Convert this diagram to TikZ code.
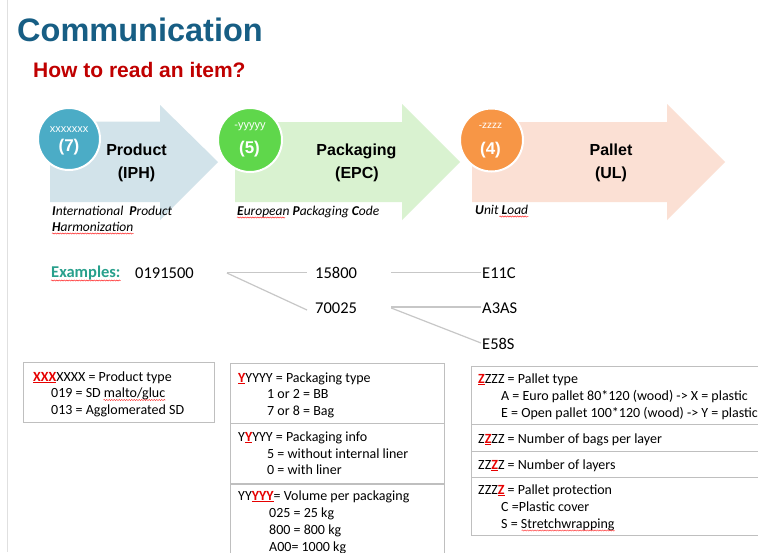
\documentclass[tikz,border=0pt]{standalone}
\usepackage{fontspec}
\setmainfont{Carlito}
\newfontfamily\arialf{Liberation Sans}
\usetikzlibrary{calc,decorations.pathmorphing}
\definecolor{titleblue}{RGB}{23,94,132}
\definecolor{titlered}{RGB}{192,0,0}
\definecolor{extea}{RGB}{40,160,140}
\definecolor{arrblue}{RGB}{210,227,234}
\definecolor{arrgreen}{RGB}{217,242,208}
\definecolor{arrpeach}{RGB}{251,224,212}
\definecolor{cblue}{RGB}{75,172,198}
\definecolor{cgreen}{RGB}{95,215,75}
\definecolor{corange}{RGB}{247,150,70}
\definecolor{hl}{RGB}{230,0,0}
\newcommand{\hlt}[1]{\textcolor{hl}{\textbf{\underline{#1}}}}
\tikzset{
  txt/.style={inner sep=0pt, anchor=base west, font=\fontsize{14}{16}\selectfont},
  ex/.style={inner sep=0pt, anchor=base west, font=\fontsize{16.5}{19}\selectfont},
  lbl/.style={inner sep=0pt, anchor=base, font=\arialf\bfseries\fontsize{16}{19}\selectfont},
  sub/.style={inner sep=0pt, anchor=base west, font=\itshape\fontsize{13.5}{16}\selectfont},
  csmall/.style={inner sep=0pt, anchor=base, text=white, font=\arialf\fontsize{11}{13}\selectfont},
  cbig/.style={inner sep=0pt, anchor=base, text=white, font=\arialf\bfseries\fontsize{17}{20}\selectfont},
  circ/.style={circle, draw=white, line width=2pt, inner sep=0pt},
  sq/.style={draw=red!85, line width=.5pt, decorate, decoration={snake, amplitude=.6pt, segment length=2.5pt}},
  link/.style={draw=black!22, line width=1.2pt},
  boxline/.style={draw=black!25, line width=.9pt}
}
\begin{document}
\begin{tikzpicture}[x=1pt,y=-1pt]
\useasboundingbox (0,0) rectangle (758,552);
\fill[white] (0,0) rectangle (758,552);
\draw[black!12, line width=.8pt] (7,0) -- (7,552);

% titles
\node[inner sep=0pt, anchor=base west, text=titleblue, font=\arialf\bfseries\fontsize{32.5}{36}\selectfont] (title) at (17,41.5) {Communication};
\node[inner sep=0pt, anchor=base west, text=titlered, font=\arialf\bfseries\fontsize{21}{24}\selectfont] (subtitle) at (33,77) {How to read an item?};

% arrows
\fill[arrblue] (50,121.5) -- (160,121.5) -- (160,105) -- (218,162) -- (160,220) -- (160,202) -- (50,202) -- cycle;
\fill[arrgreen] (235,122) -- (402,122) -- (402,104) -- (460,162) -- (402,220) -- (402,202) -- (235,202) -- cycle;
\fill[arrpeach] (472,122) -- (667,122) -- (667,104) -- (725,162) -- (667,220) -- (667,202) -- (472,202) -- cycle;

% circles
\node[circ, fill=cblue, minimum size=62pt] (c1) at (69,139) {};
\node[circ, fill=cgreen, minimum size=64pt] (c2) at (250,140) {};
\node[circ, fill=corange, minimum size=63pt] (c3) at (491.5,140) {};
\node[csmall] (c1a) at (69,132) {xxxxxxx};
\node[cbig] (c1b) at (69,151.5) {(7)};
\node[csmall] (c2a) at (250,128.5) {-yyyyy};
\node[cbig] (c2b) at (249.5,153) {(5)};
\node[csmall, font=\arialf\fontsize{10}{12}\selectfont] (c3a) at (490.5,128) {-zzzz};
\node[cbig] (c3b) at (490.5,154) {(4)};

% arrow labels
\node[lbl] (p1) at (136.5,155.5) {Product};
\node[lbl] (p2) at (136.5,178) {(IPH)};
\node[lbl] (k1) at (356.5,155.5) {Packaging};
\node[lbl] (k2) at (357,178) {(EPC)};
\node[lbl] (u1) at (611,155.5) {Pallet};
\node[lbl] (u2) at (611,178) {(UL)};

% sub labels
\node[sub] (iph1) at (52,215) {\textbf{I}nternational\ \ \textbf{P}roduct};
\node[sub] (iph2) at (52,231) {\textbf{H}armonization};
\node[sub] (epc) at (237,215) {\textbf{E}uropean \textbf{P}ackaging \textbf{C}ode};
\node[sub] (ul) at (475,214) {\textbf{U}nit \textbf{L}oad};
\draw[sq] ($(iph2.base west)+(0,2.5)$) -- ($(iph2.base east)+(0,2.5)$);
\draw[sq] ($(epc.base west)+(0,2.5)$) -- ++(48,0);
\draw[sq] ($(ul.base east)+(-29,2.5)$) -- ($(ul.base east)+(0,2.5)$);

% examples
\node[ex, text=extea, font=\bfseries\fontsize{16.5}{19}\selectfont] (exl) at (51,277.5) {Examples:};
\draw[sq] ($(exl.base west)+(0,3)$) -- ($(exl.base east)+(0,3)$);
\node[ex] (e0) at (135,278) {0191500};
\node[ex] (e1) at (315,278) {15800};
\node[ex] (e2) at (315,313) {70025};
\node[ex] (f1) at (482,278) {E11C};
\node[ex] (f2) at (482,313) {A3AS};
\node[ex] (f3) at (482,349) {E58S};
\path[link] ($(e0.base east)+(33,-5.5)$) -- ($(e1.base west)+(-8,-5.5)$);
\path[link] ($(e0.base east)+(33,-5)$) -- ($(e2.base west)+(-8,-3)$);
\path[link] ($(e1.base east)+(34,-5.5)$) -- ($(f1.base west)+(-1,-5.5)$);
\path[link] ($(e2.base east)+(34,-6)$) -- ($(f2.base west)+(-1,-6)$);
\path[link] ($(e2.base east)+(34,-5)$) -- ($(f3.base west)+(-1,-6)$);

% box 1
\path[boxline] (23,362) rectangle (214,422);
\node[txt] (b1a) at (33,381) {\hlt{XXX}XXXX = Product type};
\node[txt] (b1b) at (51,397.5) {019 = SD malto/gluc};
\node[txt] (b1c) at (51,414) {013 = Agglomerated SD};
\draw[sq] ($(b1b.base east)+(-62,2.5)$) -- ($(b1b.base east)+(0,2.5)$);

% box 2
\path[boxline] (230,363) rectangle (444,423);
\path[boxline] (230,423) rectangle (444,483);
\path[boxline] (230,484.5) rectangle (444,570);
\node[txt] (b2a) at (238,382) {\hlt{Y}YYYY = Packaging type};
\node[txt] (b2b) at (267,398.5) {1 or 2 = BB};
\node[txt] (b2c) at (267,415) {7 or 8 = Bag};
\node[txt] (b2d) at (238,441) {Y\hlt{Y}YYY = Packaging info};
\node[txt] (b2e) at (267,458) {5 = without internal liner};
\node[txt] (b2f) at (267,474.5) {0 = with liner};
\node[txt] (b2g) at (238,500) {YY\hlt{YYY}= Volume per packaging};
\node[txt] (b2h) at (269,517) {025 = 25 kg};
\node[txt] (b2i) at (269,534) {800 = 800 kg};
\node[txt] (b2j) at (269,551) {A00= 1000 kg};

% box 3
\path[boxline] (471,366) rectangle (780,424);
\path[boxline] (471,424) rectangle (780,451);
\path[boxline] (471,451) rectangle (780,477);
\path[boxline] (471,477) rectangle (780,535);
\node[txt] (b3a) at (478,383) {\hlt{Z}ZZZ = Pallet type};
\node[txt] (b3b) at (501,400) {A = Euro pallet 80*120 (wood) -> X = plastic};
\node[txt] (b3c) at (501,417) {E = Open pallet 100*120 (wood) -> Y = plastic};
\node[txt] (b3d) at (478,443) {Z\hlt{Z}ZZ = Number of bags per layer};
\node[txt] (b3e) at (478,469) {ZZ\hlt{Z}Z = Number of layers};
\node[txt] (b3f) at (478,494) {ZZZ\hlt{Z} = Pallet protection};
\node[txt] (b3g) at (501,511) {C =Plastic cover};
\node[txt] (b3h) at (501,528) {S = Stretchwrapping};
\draw[sq] ($(b3h.base east)+(-93,2.5)$) -- ($(b3h.base east)+(0,2.5)$);
\end{tikzpicture}
\end{document}
